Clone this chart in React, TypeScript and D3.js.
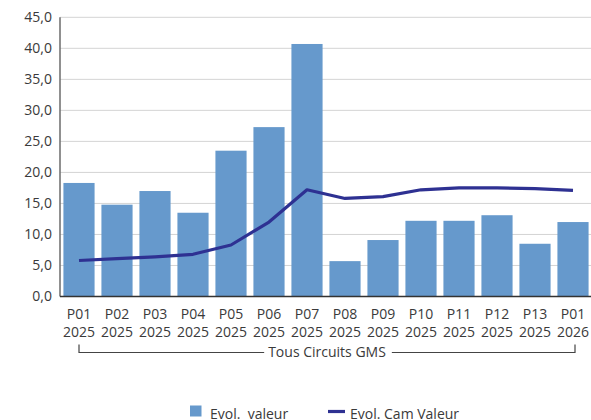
import React, { useRef, useEffect } from 'react';
import * as d3 from 'd3';

const periods = ['P01', 'P02', 'P03', 'P04', 'P05', 'P06', 'P07', 'P08', 'P09', 'P10', 'P11', 'P12', 'P13', 'P01'];
const years = ['2025', '2025', '2025', '2025', '2025', '2025', '2025', '2025', '2025', '2025', '2025', '2025', '2025', '2026'];
const evolValeur = [18.3, 14.8, 17.0, 13.5, 23.5, 27.3, 40.7, 5.7, 9.1, 12.2, 12.2, 13.1, 8.5, 12.0];
const evolCamValeur = [5.8, 6.1, 6.4, 6.8, 8.3, 12.0, 17.2, 15.8, 16.1, 17.2, 17.5, 17.5, 17.4, 17.1];
const yTicks = [0, 5, 10, 15, 20, 25, 30, 35, 40, 45];
const groupLabel = 'Tous Circuits GMS';
const legendLabels = ['Evol.  valeur', 'Evol. Cam Valeur'];

const W = 591;
const H = 420;
const FONT = '"Open Sans", "Noto Sans", sans-serif';
const BAR = '#6699cc';
const LINE = '#2e3192';
const TXT = '#3a3a3a';

export default function App() {
  const svgRef = useRef<SVGSVGElement>(null);

  useEffect(() => {
    const svg = d3.select(svgRef.current);
    svg.selectAll('*').remove();

    const left = 60;
    const top = 17.3;
    const bottom = 296.5;
    const keys = periods.map((p, i) => i);

    const x = d3.scaleBand<number>().domain(keys).range([left, left + 14 * 38]).paddingInner(0.18).paddingOuter(0.09);
    const y = d3.scaleLinear().domain([0, 45]).range([bottom, top]);

    // grid
    svg
      .append('g')
      .selectAll('line')
      .data(yTicks.slice(1))
      .enter()
      .append('line')
      .attr('x1', left)
      .attr('x2', W)
      .attr('y1', (d) => y(d))
      .attr('y2', (d) => y(d))
      .attr('stroke', '#d4d4d4')
      .attr('stroke-width', 1);

    // y labels
    svg
      .append('g')
      .selectAll('text')
      .data(yTicks)
      .enter()
      .append('text')
      .attr('x', 52)
      .attr('y', (d) => y(d))
      .attr('dy', '0.35em')
      .attr('text-anchor', 'end')
      .attr('font-family', FONT)
      .attr('font-size', 14)
      .attr('fill', TXT)
      .text((d) => d3.format('.1f')(d).replace('.', ','));

    // bars
    svg
      .append('g')
      .selectAll('rect')
      .data(evolValeur)
      .enter()
      .append('rect')
      .attr('x', (d, i) => x(i))
      .attr('y', (d) => y(d))
      .attr('width', x.bandwidth())
      .attr('height', (d) => y(0) - y(d))
      .attr('fill', BAR);

    // axes lines
    svg.append('line').attr('x1', left).attr('x2', left).attr('y1', top).attr('y2', bottom).attr('stroke', '#6b6b6b').attr('stroke-width', 1.5);
    svg.append('line').attr('x1', left).attr('x2', W).attr('y1', bottom).attr('y2', bottom).attr('stroke', '#333').attr('stroke-width', 1.5);

    // line
    const line = d3
      .line<number>()
      .x((d, i) => x(i) + x.bandwidth() / 2)
      .y((d) => y(d));

    svg
      .append('path')
      .datum(evolCamValeur)
      .attr('d', line)
      .attr('fill', 'none')
      .attr('stroke', LINE)
      .attr('stroke-width', 3.2)
      .attr('stroke-linejoin', 'round');

    // x labels
    const xl = svg.append('g').attr('font-family', FONT).attr('font-size', 14).attr('fill', TXT).attr('text-anchor', 'middle');
    periods.forEach((p, i) => {
      const cx = x(i) + x.bandwidth() / 2;
      xl.append('text').attr('x', cx).attr('y', 319).text(p);
      xl.append('text').attr('x', cx).attr('y', 337).text(years[i]);
    });

    // group bracket
    const gx1 = x(0) + x.bandwidth() / 2;
    const gx2 = x(keys.length - 1) + x.bandwidth() / 2 + 2;
    const gy = 352.5;
    const mid = (gx1 + gx2) / 2;
    const label = svg
      .append('text')
      .attr('x', mid)
      .attr('y', gy + 4.5)
      .attr('text-anchor', 'middle')
      .attr('font-family', FONT)
      .attr('font-size', 14)
      .attr('fill', TXT)
      .text(groupLabel);
    const lw = (label.node() as SVGTextElement).getComputedTextLength();
    const bracket = d3.path();
    bracket.moveTo(gx1, gy - 8);
    bracket.lineTo(gx1, gy);
    bracket.lineTo(mid - lw / 2 - 4, gy);
    bracket.moveTo(mid + lw / 2 + 6, gy);
    bracket.lineTo(gx2, gy);
    bracket.lineTo(gx2, gy - 8);
    svg.append('path').attr('d', bracket.toString()).attr('fill', 'none').attr('stroke', '#444').attr('stroke-width', 1.2);

    // legend
    const lg = svg.append('g').attr('font-family', FONT).attr('font-size', 14).attr('fill', TXT);
    lg.append('rect').attr('x', 190).attr('y', 405.5).attr('width', 11.5).attr('height', 11).attr('fill', BAR);
    lg.append('text').attr('x', 210).attr('y', 419).text(legendLabels[0]).style('white-space', 'pre');
    lg.append('line').attr('x1', 328).attr('x2', 345).attr('y1', 411.5).attr('y2', 411.5).attr('stroke', LINE).attr('stroke-width', 3.2);
    lg.append('text').attr('x', 350).attr('y', 419).text(legendLabels[1]);
  }, []);

  return (
    <svg
      ref={svgRef}
      width={W}
      height={H}
      style={{ position: 'absolute', left: 0, top: 0, display: 'block', background: '#fff' }}
    ></svg>
  );
}
